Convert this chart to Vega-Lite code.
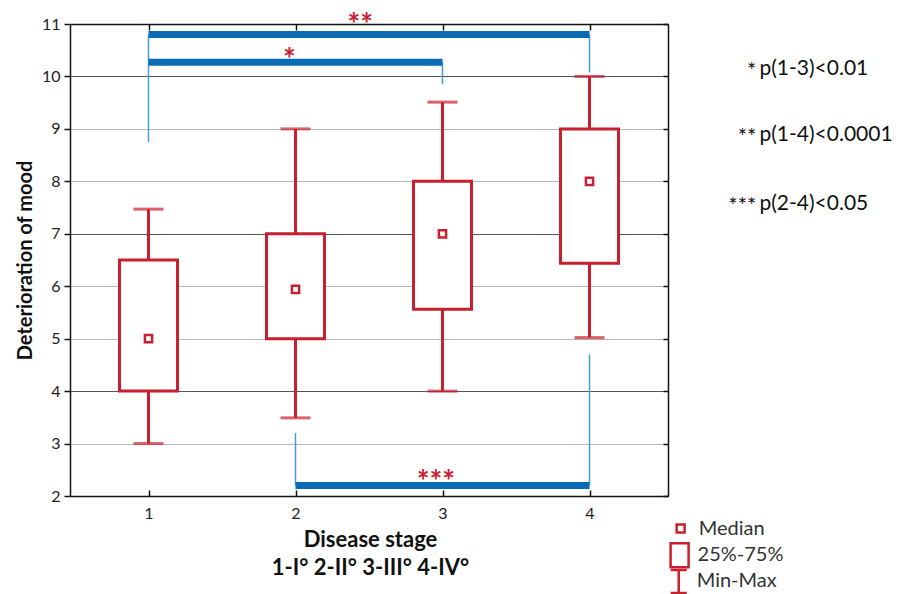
{
  "$schema": "https://vega.github.io/schema/vega-lite/v6.json",
  "width": 598,
  "height": 472,
  "autosize": "none",
  "padding": {"left": 70, "top": 24, "right": 239, "bottom": 98},
  "background": "white",
  "config": {"view": {"stroke": null}, "font": "Lato"},
  "datasets": {
    "boxes": [
      {"stage": 1, "min": 3, "q1": 4, "median": 5, "q3": 6.5, "max": 7.47},
      {"stage": 2, "min": 3.49, "q1": 5, "median": 5.94, "q3": 7, "max": 9},
      {"stage": 3, "min": 4, "q1": 5.56, "median": 7, "q3": 8, "max": 9.51},
      {"stage": 4, "min": 5.02, "q1": 6.44, "median": 8, "q3": 9, "max": 10}
    ],
    "sigbars": [
      {"from": 1, "to": 4, "level": 10.8, "stars": "**", "sx": 2.44, "sy": 10.79},
      {"from": 1, "to": 3, "level": 10.27, "stars": "*", "sx": 1.958, "sy": 10.12},
      {"from": 2, "to": 4, "level": 2.2, "stars": "***", "sx": 2.955, "sy": 2.07}
    ],
    "drops": [
      {"stage": 1, "top": 10.8, "bottom": 8.75},
      {"stage": 3, "top": 10.27, "bottom": 9.85},
      {"stage": 4, "top": 10.8, "bottom": 10.08},
      {"stage": 2, "top": 2.2, "bottom": 3.2},
      {"stage": 4, "top": 2.2, "bottom": 4.7}
    ],
    "notes": [
      {"stars": "*", "text": "p(1-3)<0.01", "x": 5.156, "y": 10.03},
      {"stars": "**", "text": "p(1-4)<0.0001", "x": 5.156, "y": 8.77},
      {"stars": "***", "text": "p(2-4)<0.05", "x": 5.156, "y": 7.45}
    ],
    "key": [
      {"label": "Median", "x": 4.62, "y": 1.38},
      {"label": "25%-75%", "x": 4.613, "y": 0.87},
      {"label": "Min-Max", "x": 4.607, "y": 0.37}
    ]
  },
  "layer": [
    {
      "data": {"name": "boxes"},
      "mark": {"type": "rule", "color": "#c9202f", "strokeWidth": 3},
      "encoding": {
        "x": {
          "field": "stage", "type": "quantitative",
          "scale": {"domain": [0.5, 4.5], "nice": false, "zero": false},
          "axis": {
            "values": [1, 2, 3, 4], "format": "d",
            "title": ["Disease stage", "1-I° 2-II° 3-III° 4-IV°"],
            "titleFontSize": 22, "titleFontWeight": "bold", "titleColor": "#111",
            "titleLineHeight": 28, "titleX": 300, "titleY": 33, "titleAlign": "center", "titleBaseline": "top",
            "labelFontSize": 16, "labelColor": "#222", "labelPadding": 15,
            "tickSize": -6, "tickColor": "#111", "tickWidth": 1.5,
            "domainColor": "#111", "domainWidth": 1.5, "grid": false
          }
        },
        "y": {
          "field": "min", "type": "quantitative",
          "scale": {"domain": [2, 11], "nice": false, "zero": false},
          "axis": {
            "values": [2, 3, 4, 5, 6, 7, 8, 9, 10, 11],
            "title": "Deterioration of mood",
            "titleFontSize": 20, "titleFontWeight": "bold", "titleColor": "#111", "titlePadding": 6,
            "labelFontSize": 16, "labelColor": "#222", "labelPadding": 4,
            "tickSize": 6, "tickColor": "#111", "tickWidth": 1.5,
            "domainColor": "#111", "domainWidth": 1.5,
            "grid": true,
            "gridColor": {"condition": [{"test": "datum.value === 11", "value": "#111"}, {"test": "datum.value === 4 || datum.value === 7 || datum.value === 10", "value": "#555"}], "value": "#b8b8b8"},
            "gridWidth": {"condition": {"test": "datum.value === 11", "value": 1.5}, "value": 1}
          }
        },
        "y2": {"field": "max"}
      }
    },
    {
      "data": {"name": "boxes"},
      "mark": {"type": "bar", "fill": "white", "stroke": "#c9202f", "strokeWidth": 3, "size": 58},
      "encoding": {
        "x": {"field": "stage", "type": "quantitative", "axis": null},
        "y": {
          "field": "q1", "type": "quantitative",
          "axis": {"orient": "right", "labels": false, "domain": true, "domainColor": "#111", "domainWidth": 1.5, "grid": false, "ticks": true, "tickSize": -5, "tickColor": "#111", "tickWidth": 1.5, "values": [2, 3, 4, 5, 6, 7, 8, 9, 10, 11], "title": null}
        },
        "y2": {"field": "q3"}
      }
    },
    {
      "data": {"name": "boxes"},
      "mark": {"type": "tick", "orient": "horizontal", "color": "#c9202f", "size": 30, "thickness": 3},
      "encoding": {
        "x": {"field": "stage", "type": "quantitative", "axis": null},
        "y": {"field": "min", "type": "quantitative", "axis": null}
      }
    },
    {
      "data": {"name": "boxes"},
      "mark": {"type": "tick", "orient": "horizontal", "color": "#c9202f", "size": 30, "thickness": 3},
      "encoding": {
        "x": {"field": "stage", "type": "quantitative", "axis": null},
        "y": {"field": "max", "type": "quantitative", "axis": null}
      }
    },
    {
      "data": {"name": "boxes"},
      "mark": {"type": "point", "shape": "M-0.3,-0.3H0.3V0.3H-0.3Z", "filled": true, "fill": "white", "stroke": "#c9202f", "strokeWidth": 2.5, "size": 576, "opacity": 1},
      "encoding": {
        "x": {"field": "stage", "type": "quantitative", "axis": null},
        "y": {"field": "median", "type": "quantitative", "axis": null}
      }
    },
    {
      "data": {"name": "drops"},
      "mark": {"type": "rule", "color": "#4d9bd5", "strokeWidth": 1.5},
      "encoding": {
        "x": {
          "field": "stage", "type": "quantitative",
          "axis": {"orient": "top", "labels": false, "domain": false, "grid": false, "ticks": true, "tickSize": -6, "tickColor": "#111", "tickWidth": 1.5, "values": [1, 2, 3, 4], "title": null}
        },
        "y": {"field": "top", "type": "quantitative", "axis": null},
        "y2": {"field": "bottom"}
      }
    },
    {
      "data": {"name": "sigbars"},
      "mark": {"type": "rule", "color": "#0b6cb5", "strokeWidth": 7, "strokeCap": "butt"},
      "encoding": {
        "x": {"field": "from", "type": "quantitative", "axis": null},
        "x2": {"field": "to"},
        "y": {"field": "level", "type": "quantitative", "axis": null}
      }
    },
    {
      "data": {"name": "sigbars"},
      "mark": {"type": "text", "color": "#c9202f", "fontSize": 30, "fontWeight": "bold", "align": "center", "baseline": "alphabetic"},
      "encoding": {
        "x": {"field": "sx", "type": "quantitative", "axis": null},
        "y": {"field": "sy", "type": "quantitative", "axis": null},
        "text": {"field": "stars"}
      }
    },
    {
      "data": {"name": "notes"},
      "mark": {"type": "text", "color": "#111", "fontSize": 21, "align": "left", "baseline": "alphabetic"},
      "encoding": {
        "x": {"field": "x", "type": "quantitative", "axis": null},
        "y": {"field": "y", "type": "quantitative", "axis": null},
        "text": {"field": "text"}
      }
    },
    {
      "data": {"name": "notes"},
      "mark": {"type": "text", "color": "#111", "fontSize": 22, "align": "right", "baseline": "alphabetic", "dx": -3, "dy": 3},
      "encoding": {
        "x": {"field": "x", "type": "quantitative", "axis": null},
        "y": {"field": "y", "type": "quantitative", "axis": null},
        "text": {"field": "stars"}
      }
    },
    {
      "data": {"name": "key"},
      "mark": {"type": "point", "filled": true, "fill": "white", "stroke": "#c9202f", "strokeWidth": 2.5, "size": 576, "opacity": 1},
      "encoding": {
        "x": {"field": "x", "type": "quantitative", "axis": null},
        "y": {"field": "y", "type": "quantitative", "axis": null},
        "shape": {
          "field": "label", "type": "nominal", "legend": null,
          "scale": {
            "domain": ["Median", "25%-75%", "Min-Max"],
            "range": ["M-0.33,-0.33H0.33V0.33H-0.33Z", "M-0.75,-1H0.75V1H-0.75Z", "M-0.67,-0.96H0.67M0,-0.96V0.96M-0.67,0.96H0.67"]
          }
        }
      }
    },
    {
      "data": {"name": "key"},
      "mark": {"type": "text", "color": "#333", "fontSize": 20, "align": "left", "baseline": "middle", "dx": 18},
      "encoding": {
        "x": {"field": "x", "type": "quantitative", "axis": null},
        "y": {"field": "y", "type": "quantitative", "axis": null},
        "text": {"field": "label"}
      }
    }
  ],
  "resolve": {"axis": {"x": "independent", "y": "independent"}}
}
